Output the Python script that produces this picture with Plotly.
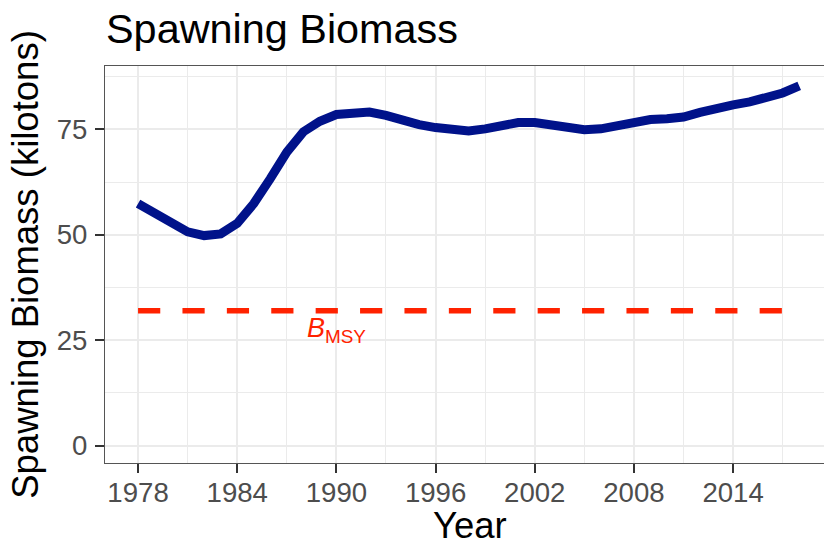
import plotly.graph_objects as go

# Spawning biomass time series (kilotons)
years = list(range(1978, 2019))
biomass = [57.4, 55.0, 52.7, 50.7, 49.8, 50.2, 52.7, 57.4, 63.3, 69.6,
           74.4, 76.9, 78.5, 78.9, 79.1, 78.3, 77.1, 76.1, 75.4, 74.8,
           74.6, 75.1, 76.1, 76.6, 76.6, 76.1, 75.4, 74.9, 75.1, 75.9,
           76.7, 77.3, 77.5, 77.9, 79.0, 80.1, 80.8, 81.5, 82.4, 83.6,
           85.3]

# Reference point
bmsy_value = 32.0
bmsy_years = [1978, 2018]
bmsy_label_year = 1990
bmsy_label_value = 27.4

x_tickvals = [1978, 1984, 1990, 1996, 2002, 2008, 2014]
x_minor = [1981, 1987, 1993, 1999, 2005, 2011, 2017]
y_tickvals = [0, 25, 50, 75]
y_minor = [12.5, 37.5, 62.5, 87.5]

FONT = "Liberation Sans, Arial, Helvetica, sans-serif"
TITLE_SIZE = 36.5
TICK_SIZE = 27.6
GRID = "#EBEBEB"
AXIS = "#4D4D4D"

# plot-area geometry (pixels)
L, R, T, B = 105, 0, 66, 82
W, H = 824, 545
PW, PH = W - L - R, H - T - B

fig = go.Figure()

fig.add_trace(go.Scatter(
    x=bmsy_years, y=[bmsy_value] * len(bmsy_years), mode="lines",
    line=dict(color="#FF2200", width=5.5, dash="22.2px,22.2px"),
    hoverinfo="skip", showlegend=False,
))

fig.add_trace(go.Scatter(
    x=years, y=biomass, mode="lines",
    line=dict(color="#00128A", width=9),
    showlegend=False,
))

fig.add_annotation(
    x=bmsy_label_year, y=bmsy_label_value, xref="x", yref="y",
    text="<i>B</i><sub>MSY</sub>", showarrow=False,
    font=dict(family=FONT, size=27, color="#FF2200"),
    xanchor="center", yanchor="middle",
)

# x-axis title
fig.add_annotation(
    x=(470 - L) / PW, y=(H - B - 525) / PH, xref="paper", yref="paper",
    text="Year", showarrow=False, xanchor="center", yanchor="middle",
    font=dict(family=FONT, size=TITLE_SIZE, color="black"),
)

fig.update_layout(
    width=W, height=H,
    margin=dict(l=L, r=R, t=T, b=B),
    paper_bgcolor="white", plot_bgcolor="white",
    font=dict(family=FONT, color=AXIS),
    title=dict(text="Spawning Biomass", x=106 / W, xanchor="left",
               y=1 - 29 / H, yanchor="middle",
               font=dict(family=FONT, size=41.4, color="black")),
    xaxis=dict(
        range=[1976, 2019.5], tickmode="array", tickvals=x_tickvals,
        ticks="outside", ticklen=9, tickwidth=1.6, tickcolor="#333333",
        tickfont=dict(family=FONT, size=TICK_SIZE, color=AXIS),
        ticklabelstandoff=-4,
        showgrid=True, gridcolor=GRID, gridwidth=1.6,
        minor=dict(tickmode="array", tickvals=x_minor,
                   showgrid=True, gridcolor=GRID, gridwidth=0.8, ticks=""),
        showline=True, linecolor="#555555", linewidth=1.3, mirror=True,
        zeroline=False,
    ),
    yaxis=dict(
        range=[-4.1, 90.0], tickmode="array", tickvals=y_tickvals,
        ticks="outside", ticklen=9, tickwidth=1.6, tickcolor="#333333",
        tickfont=dict(family=FONT, size=TICK_SIZE, color=AXIS),
        ticklabelstandoff=2,
        showgrid=True, gridcolor=GRID, gridwidth=1.6,
        minor=dict(tickmode="array", tickvals=y_minor,
                   showgrid=True, gridcolor=GRID, gridwidth=0.8, ticks=""),
        showline=True, linecolor="#555555", linewidth=1.3, mirror=False,
        zeroline=False,
        title=dict(text="Spawning Biomass (kilotons)",
                   font=dict(family=FONT, size=TITLE_SIZE, color="black"),
                   standoff=6),
    ),
)

fig.write_html("out.html")
